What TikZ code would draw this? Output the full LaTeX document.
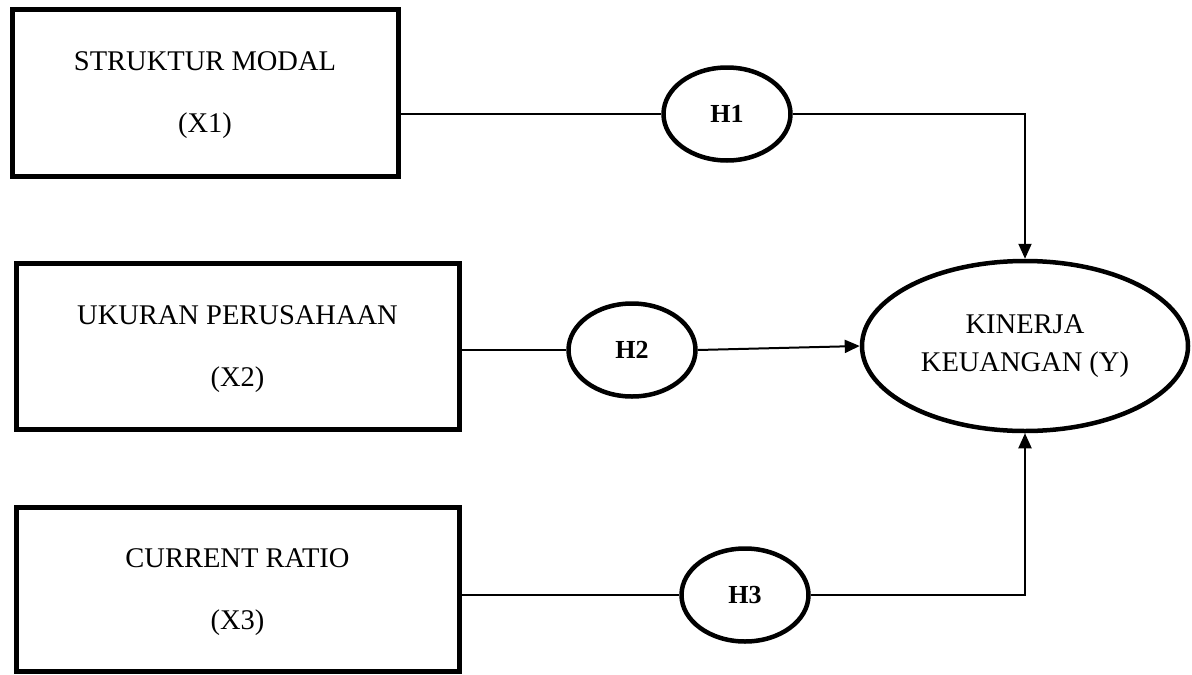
\documentclass[tikz,border=0pt]{standalone}
\usepackage{fontspec}
\setmainfont{Liberation Serif}
\usetikzlibrary{shapes.geometric, arrows.meta}

\begin{document}
\begin{tikzpicture}[x = 1pt, y = -1pt,
		varbox/.style = {draw, line width = 5pt, align = center, text depth = 0pt, font = \fontsize{28.5}{62}\selectfont},
		hypo/.style = {draw, ellipse, line width = 4.5pt, minimum width = 127pt, minimum height = 93pt, inner sep = 0pt, font = \fontsize{26}{30}\selectfont\bfseries},
		target/.style = {draw, ellipse, line width = 4.5pt, minimum width = 326pt, minimum height = 170pt, inner sep = 0pt, align = center, font = \fontsize{28.5}{38}\selectfont},
		link/.style = {line width = 2pt},
		arrowlink/.style = {link, -{Triangle[length = 15pt, width = 13pt]}}]
	\useasboundingbox (0,0) rectangle (1192,675);

	\def\boxTwoWidth{443pt};

	\node [varbox, minimum width = 386pt, minimum height = 167pt] (x1) at (205,92.5) {STRUKTUR MODAL\\(X1)};
	\node [varbox, minimum width = \boxTwoWidth, minimum height = 166pt] (x2) at (237.5,346) {UKURAN PERUSAHAAN\\(X2)};
	\node [varbox, minimum width = \boxTwoWidth, minimum height = 164pt] (x3) at (237.5,589) {CURRENT RATIO\\(X3)};

	\node [hypo] (h1) at (727,114) {H1};
	\node [hypo] (h2) at (632,350) {H2};
	\node [hypo] (h3) at (745,595) {H3};

	\node [target] (y) at (1025,346) {KINERJA\\KEUANGAN (Y)};

	\draw [link] (h1.west -| x1.east) -- (h1.west);
	\draw [arrowlink] (h1.east) -- (h1.east -| y.north) -- (y.north);

	\draw [link] (h2.west -| x2.east) -- (h2.west);
	\draw [arrowlink] (h2.east) -- (y.west);

	\draw [link] (h3.west -| x3.east) -- (h3.west);
	\draw [arrowlink] (h3.east) -- (h3.east -| y.south) -- (y.south);
\end{tikzpicture}
\end{document}
